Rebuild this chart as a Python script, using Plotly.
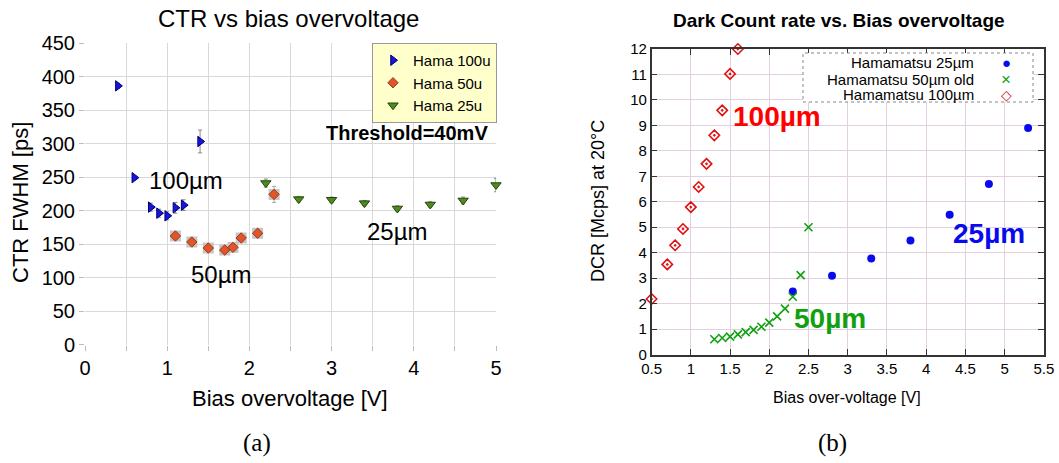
import plotly.graph_objects as go

# ---------------- Data: panel (a) CTR vs bias overvoltage ----------------
hama100_x = [0.4, 0.6, 0.8, 0.9, 1.0, 1.1, 1.2, 1.4]
hama100_y = [386, 249, 205, 196, 192, 204, 208, 303]
hama100_err = [4, 3, 6, 6, 6, 8, 8, 17]

hama50_x = [1.1, 1.3, 1.5, 1.7, 1.8, 1.9, 2.1, 2.3]
hama50_y = [162, 153, 144, 141, 145, 159, 166, 224]
hama50_err = [5, 5, 5, 5, 5, 5, 6, 12]

hama25_x = [2.2, 2.6, 3.0, 3.4, 3.8, 4.2, 4.6, 5.0]
hama25_y = [241, 217, 216, 211, 203, 209, 215, 238]
hama25_err = [6, 4, 4, 4, 4, 4, 5, 10]

# ---------------- Data: panel (b) Dark count rate ----------------
dcr25_x = [2.3, 2.8, 3.3, 3.8, 4.3, 4.8, 5.3]
dcr25_y = [2.47, 3.09, 3.77, 4.48, 5.49, 6.70, 8.90]

dcr50_x = [1.3, 1.4, 1.5, 1.6, 1.7, 1.8, 1.9, 2.0, 2.1, 2.2, 2.3, 2.4, 2.5]
dcr50_y = [0.60, 0.65, 0.70, 0.79, 0.88, 0.97, 1.09, 1.25, 1.50, 1.80, 2.27, 3.12, 5.00]

dcr100_x = [0.5, 0.7, 0.8, 0.9, 1.0, 1.1, 1.2, 1.3, 1.4, 1.5, 1.6]
dcr100_y = [2.18, 3.54, 4.29, 4.93, 5.79, 6.58, 7.49, 8.61, 9.59, 11.02, 12.0]

SANS = "Liberation Sans, Arial, sans-serif"
SERIF = "Liberation Serif, Times New Roman, serif"
W, H = 1059, 463


def px(x):
    return x / W


def py(y):
    return 1 - y / H


fig = go.Figure()

# grey error boxes behind 50u points
fig.add_trace(go.Scatter(x=hama50_x, y=hama50_y, mode="markers", showlegend=False,
                         hoverinfo="skip", xaxis="x", yaxis="y", cliponaxis=False,
                         marker=dict(symbol="square", size=11, color="#c6c6c6")))

fig.add_trace(go.Scatter(x=hama100_x, y=hama100_y, mode="markers", name="Hama 100u",
                         xaxis="x", yaxis="y", legend="legend", cliponaxis=False,
                         error_y=dict(type="data", array=hama100_err, color="#888",
                                      thickness=1, width=2),
                         marker=dict(symbol="triangle-right", size=9, color="#1414e6",
                                     line=dict(color="#00006a", width=1))))
fig.add_trace(go.Scatter(x=hama50_x, y=hama50_y, mode="markers", name="Hama 50u",
                         xaxis="x", yaxis="y", legend="legend", cliponaxis=False,
                         error_y=dict(type="data", array=hama50_err, color="#aaa",
                                      thickness=1, width=2),
                         marker=dict(symbol="diamond", size=8, color="#e0552a",
                                     line=dict(color="#9a3c1c", width=1))))
fig.add_trace(go.Scatter(x=hama25_x, y=hama25_y, mode="markers", name="Hama 25u",
                         xaxis="x", yaxis="y", legend="legend", cliponaxis=False,
                         error_y=dict(type="data", array=hama25_err, color="#888",
                                      thickness=1, width=2),
                         marker=dict(symbol="triangle-down", size=9, color="#4c8c1c",
                                     line=dict(color="#24440c", width=1))))

# panel (b)
fig.add_trace(go.Scatter(x=dcr25_x, y=dcr25_y, mode="markers", name="Hamamatsu 25µm",
                         xaxis="x2", yaxis="y2", showlegend=False, cliponaxis=False,
                         marker=dict(symbol="circle", size=8, color="#0a0aee")))
fig.add_trace(go.Scatter(x=dcr50_x, y=dcr50_y, mode="markers", name="Hamamatsu 50µm old",
                         xaxis="x2", yaxis="y2", showlegend=False, cliponaxis=False,
                         marker=dict(symbol="x-thin-open", size=8, color="#10a010",
                                     line=dict(color="#10a010", width=1.6))))
fig.add_trace(go.Scatter(x=dcr100_x, y=dcr100_y, mode="markers", name="Hamamatsu 100µm",
                         xaxis="x2", yaxis="y2", showlegend=False, cliponaxis=False,
                         marker=dict(symbol="diamond-open-dot", size=8, color="#e01010",
                                     line=dict(color="#e01010", width=1.6))))


def ann(text, x, y, xref="paper", yref="paper", size=20, color="#000", family=SANS,
        xanchor="center", angle=0):
    return dict(text=text, x=x, y=y, xref=xref, yref=yref, showarrow=False,
                xanchor=xanchor, yanchor="middle", textangle=angle,
                font=dict(family=family, size=size, color=color))


annotations = [
    # panel (a)
    ann("CTR vs bias overvoltage", px(288), py(18), size=24),
    ann("CTR FWHM [ps]", px(20), py(203), size=22, angle=-90),
    ann("Bias overvoltage [V]", px(290), py(398), size=22),
    ann("100µm", 1.23, 245, "x", "y", size=24),
    ann("50µm", 1.66, 104, "x", "y", size=24),
    ann("25µm", 3.8, 168, "x", "y", size=24),
    ann("<b>Threshold=40mV</b>", 3.92, 315, "x", "y", size=20),
    # panel (b)
    ann("<b>Dark Count rate vs. Bias overvoltage</b>", px(838.8), py(20), size=19),
    ann("DCR [Mcps] at 20°C", px(598), py(201), size=18, angle=-90),
    ann("Bias over-voltage [V]", px(847), py(397), size=16),
    ann("<b>100µm</b>", 2.10, 9.34, "x2", "y2", size=28, color="#ff0000"),
    ann("<b>50µm</b>", 2.78, 1.42, "x2", "y2", size=28, color="#10a010"),
    ann("<b>25µm</b>", 4.80, 4.76, "x2", "y2", size=28, color="#0a0aee"),
    # captions
    ann("(a)", px(257), py(443), size=25, family=SERIF),
    ann("(b)", px(832), py(443), size=25, family=SERIF),
]

# right-hand legend drawn as text
leg_names = ["Hamamatsu 25µm", "Hamamatsu 50µm old", "Hamamatsu 100µm"]
leg_syms = ["●", "×", "◇"]
leg_sizes = [15, 17, 14]
leg_cols = ["#0a0aee", "#10a010", "#e01010"]
leg_rows = [62.7, 79, 94.7]
for nm, sy, sz, col, ry in zip(leg_names, leg_syms, leg_sizes, leg_cols, leg_rows):
    annotations.append(ann(nm, px(976), py(ry), size=15, xanchor="right"))
    annotations.append(ann(sy, px(1006), py(ry), size=sz, color=col))

shapes = [
    dict(type="rect", xref="paper", yref="paper", x0=px(803), x1=px(1033),
         y0=py(102), y1=py(53), fillcolor="#ffffff",
         line=dict(color="#888", width=1, dash="dot"), layer="above"),
]

fig.update_layout(
    width=W, height=H, margin=dict(l=0, r=0, t=0, b=0),
    paper_bgcolor="#ffffff", plot_bgcolor="#ffffff",
    font=dict(family=SANS, color="#000"),
    annotations=annotations, shapes=shapes,
    legend=dict(x=px(372), y=py(43), xanchor="left", yanchor="top",
                bgcolor="#ffffcc", bordercolor="#999", borderwidth=1,
                font=dict(family=SANS, size=15, color="#000")),
    xaxis=dict(domain=[px(85), px(496)], anchor="y", range=[0, 5], dtick=1,
               automargin=False,
               showgrid=True, gridcolor="#d9d9d9", gridwidth=1, zeroline=False,
               showline=False, ticks="outside", ticklen=5, tickcolor="#bbb",
               tickfont=dict(family=SANS, size=20, color="#000"),
               minor=dict(dtick=0.5, showgrid=True, gridcolor="#d9d9d9",
                          ticks="outside", ticklen=5, tickcolor="#bbb")),
    yaxis=dict(domain=[py(344.5), py(43)], anchor="x", range=[0, 450], dtick=50,
               automargin=False,
               showgrid=True, gridcolor="#d9d9d9", gridwidth=1, zeroline=False,
               showline=False, ticks="outside", ticklen=5, tickcolor="#bbb",
               tickfont=dict(family=SANS, size=20, color="#000")),
    xaxis2=dict(domain=[px(651.6), px(1043.8)], anchor="y2", range=[0.5, 5.5], dtick=0.5,
                automargin=False,
                showgrid=True, gridcolor="#e2d0e2", gridwidth=1, zeroline=False,
                showline=True, linecolor="#333", linewidth=1.5, mirror="ticks",
                ticks="inside", ticklen=6, tickcolor="#333",
                tickfont=dict(family=SANS, size=15, color="#000")),
    yaxis2=dict(domain=[py(354.5), py(49)], anchor="x2", range=[0, 12], dtick=1,
                automargin=False,
                showgrid=True, gridcolor="#e2d0e2", gridwidth=1, zeroline=False,
                showline=True, linecolor="#333", linewidth=1.5, mirror="ticks",
                ticks="inside", ticklen=6, tickcolor="#333",
                tickfont=dict(family=SANS, size=15, color="#000")),
)

fig.write_html("out.html")
